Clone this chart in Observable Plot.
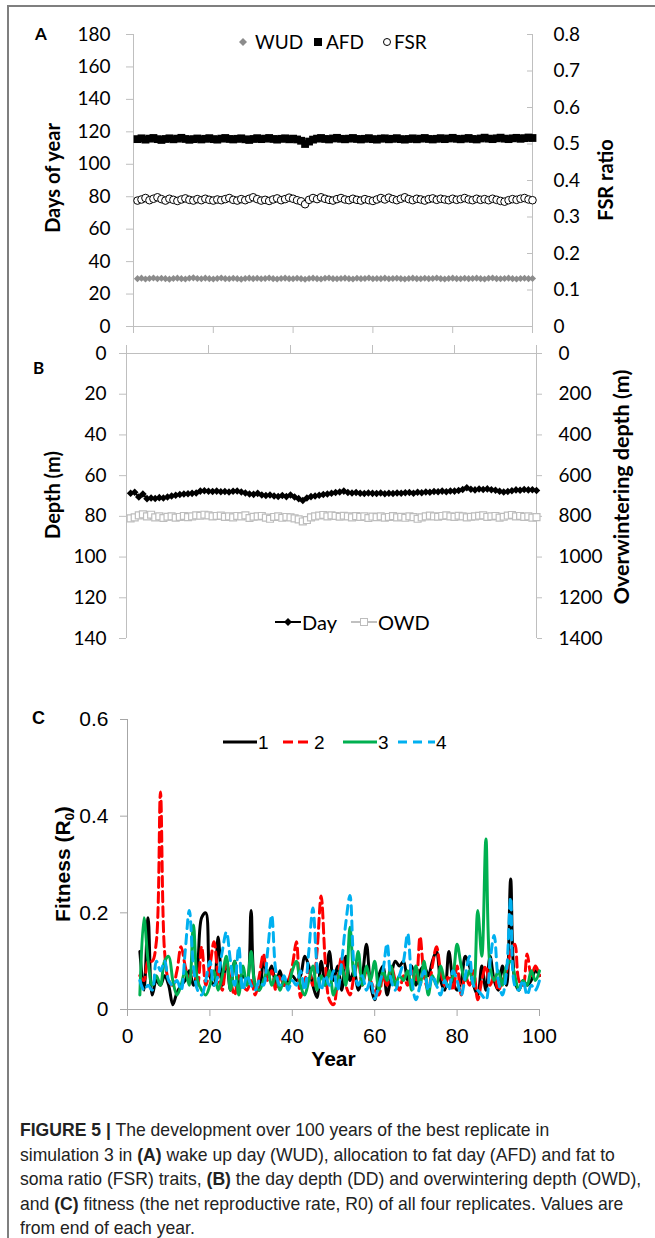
<!DOCTYPE html>
<html><head><meta charset="utf-8">
<script src="https://cdn.jsdelivr.net/npm/d3@7"></script>
<script src="https://cdn.jsdelivr.net/npm/@observablehq/plot@0.6"></script>
<style>
html,body{margin:0;padding:0;background:#fff;}
#fig{position:relative;width:655px;height:1238px;overflow:hidden;background:#fff;}
.frame{position:absolute;left:7px;top:5px;width:700px;height:1300px;border-top:2px solid #7f7f7f;border-left:2px solid #7f7f7f;}
.lab{position:absolute;white-space:nowrap;line-height:1;}
.panel{position:absolute;left:0;}
#caption{position:absolute;left:20px;top:1118px;font-family:"Liberation Sans",Arial,sans-serif;font-size:19px;line-height:24.5px;color:#222;white-space:nowrap;transform:scaleX(0.925);transform-origin:0 0;}
</style></head><body><div id="fig"><div class="frame"></div></div>
<script>
// ---------- DATA ----------
const yearsA = d3.range(1, 101);
const wud = [29.5,29.8,29.3,29.6,29.9,29.4,29.7,29.5,29.2,29.6,29.8,29.5,29.3,29.7,30.0,29.6,29.4,29.8,29.5,29.3,29.6,29.9,29.5,29.4,29.7,29.5,29.2,29.6,29.8,29.5,29.7,29.4,29.6,29.9,29.5,29.3,29.6,29.8,29.5,29.4,29.7,29.5,29.1,29.6,29.8,29.5,29.3,29.7,29.9,29.5,29.4,29.6,29.8,29.5,29.3,29.7,29.5,29.6,29.9,29.4,29.6,29.5,29.8,29.4,29.6,29.7,29.5,29.3,29.6,29.8,29.5,29.4,29.7,29.5,29.6,29.9,29.5,29.3,29.6,29.8,29.5,29.4,29.7,29.5,29.6,29.8,29.5,29.3,29.7,29.9,29.5,29.4,29.6,29.8,29.5,29.3,29.6,29.7,29.5,29.6];
const afd = [115.5,116.0,115.2,115.8,116.2,115.5,115.0,115.6,116.0,115.4,115.8,116.3,115.6,115.1,115.5,115.9,115.3,115.7,116.1,115.5,115.2,115.8,116.2,115.6,115.3,115.7,116.0,115.4,115.0,115.6,116.1,115.5,115.8,116.2,115.6,115.2,115.7,116.0,115.4,115.8,115.3,114.5,112.5,114.0,115.2,115.8,116.2,115.6,115.3,115.9,116.3,115.7,115.4,115.8,116.2,115.6,115.3,115.7,116.1,115.5,115.2,115.8,116.0,115.4,115.7,116.1,115.5,115.2,115.6,116.0,115.4,115.8,116.2,115.6,115.3,115.7,116.1,115.5,115.9,116.3,115.7,115.4,115.8,116.2,115.6,115.3,115.9,116.4,115.8,115.5,116.0,116.4,115.8,115.5,116.0,116.3,115.7,116.1,116.5,116.2];
const fsr = [0.345,0.348,0.352,0.346,0.350,0.354,0.349,0.345,0.350,0.347,0.344,0.348,0.351,0.347,0.345,0.349,0.346,0.350,0.347,0.345,0.348,0.346,0.349,0.352,0.347,0.345,0.349,0.346,0.350,0.354,0.349,0.345,0.347,0.344,0.348,0.351,0.346,0.349,0.353,0.350,0.346,0.343,0.335,0.347,0.352,0.349,0.354,0.350,0.347,0.345,0.349,0.352,0.348,0.346,0.350,0.347,0.345,0.349,0.346,0.344,0.348,0.352,0.348,0.353,0.349,0.346,0.350,0.354,0.349,0.346,0.350,0.348,0.345,0.349,0.351,0.347,0.350,0.348,0.346,0.350,0.347,0.349,0.352,0.348,0.346,0.350,0.347,0.349,0.346,0.350,0.347,0.344,0.342,0.346,0.349,0.347,0.350,0.352,0.348,0.346];
const dayDepth = [68.6,68.2,70.5,69.0,71.3,71.0,71.2,70.8,71.0,70.5,70.0,69.6,69.3,69.0,68.9,68.7,68.5,67.6,67.4,67.7,67.8,67.6,67.9,67.8,68.0,67.7,67.5,68.0,68.5,69.0,69.2,68.7,69.5,69.8,69.5,70.0,70.2,69.8,70.3,69.5,70.5,71.3,72.2,71.0,70.3,70.0,69.6,69.3,69.0,68.6,68.3,68.0,67.6,68.3,68.5,68.3,68.6,68.8,68.5,68.7,68.8,68.5,68.9,68.6,68.8,68.5,68.6,68.4,68.3,68.6,68.2,68.4,68.0,68.2,67.8,67.9,67.6,67.9,67.5,67.6,67.3,66.8,65.9,66.7,67.0,66.6,66.8,66.5,66.9,67.2,67.7,68.0,67.8,67.4,67.0,67.2,66.8,67.0,66.9,67.3];
const owd = [810,805,795,790,800,792,805,800,808,802,800,806,803,798,804,800,795,797,792,795,800,798,796,803,800,805,798,800,795,808,802,800,798,806,812,803,800,807,803,805,810,815,825,818,805,800,796,793,800,795,798,802,797,800,805,799,803,800,808,801,804,800,806,803,799,805,802,807,800,804,812,805,800,796,800,802,798,795,800,803,797,800,805,802,800,797,795,803,800,798,806,802,796,793,800,798,803,800,806,804];

const yearsC = d3.range(3, 101);
const rep1 = [0.12,0.04,0.19,0.03,0.06,0.05,0.07,0.05,0.01,0.035, 0.05,0.06,0.08,0.05,0.09,0.19,0.20,0.07,0.05,0.15, 0.05,0.10,0.04,0.10,0.05,0.07,0.06,0.205,0.05,0.04, 0.10,0.07,0.09,0.05,0.08,0.05,0.06,0.07,0.06,0.07, 0.11,0.09,0.05,0.025,0.10,0.05,0.12,0.06,0.09,0.04, 0.11,0.06,0.08,0.04,0.07,0.135,0.05,0.02,0.07,0.09, 0.03,0.07,0.10,0.09,0.10,0.06,0.09,0.05,0.08,0.09, 0.07,0.10,0.12,0.06,0.04,0.12,0.06,0.04,0.06,0.11, 0.09,0.05,0.03,0.09,0.04,0.11,0.06,0.04,0.09,0.05, 0.27,0.06,0.04,0.06,0.05,0.06,0.08,0.07];
const rep2 = [0.07,0.06,0.10,0.10,0.14,0.45,0.12,0.06,0.05,0.08, 0.13,0.09,0.06,0.08,0.05,0.13,0.05,0.09,0.14,0.07, 0.04,0.10,0.06,0.03,0.07,0.05,0.04,0.06,0.03,0.07, 0.115,0.06,0.08,0.04,0.07,0.05,0.06,0.09,0.14,0.025, 0.06,0.08,0.05,0.12,0.235,0.10,0.02,0.01,0.06,0.11, 0.05,0.03,0.07,0.10,0.05,0.08,0.06,0.04,0.03,0.07, 0.05,0.09,0.06,0.04,0.07,0.05,0.08,0.06,0.15,0.07, 0.04,0.09,0.13,0.08,0.05,0.07,0.04,0.09,0.03,0.07, 0.05,0.08,0.02,0.06,0.09,0.05,0.07,0.04,0.06,0.08, 0.12,0.135,0.06,0.05,0.115,0.07,0.09,0.07];
const rep3 = [0.03,0.19,0.10,0.05,0.07,0.05,0.10,0.11,0.06,0.03, 0.05,0.08,0.05,0.175,0.06,0.04,0.03,0.05,0.08,0.04, 0.07,0.11,0.04,0.10,0.03,0.09,0.05,0.12,0.05,0.04, 0.06,0.08,0.05,0.07,0.04,0.06,0.05,0.08,0.10,0.05, 0.03,0.06,0.09,0.04,0.07,0.05,0.08,0.03,0.06,0.09, 0.05,0.17,0.07,0.12,0.05,0.09,0.06,0.10,0.04,0.08, 0.06,0.09,0.05,0.07,0.06,0.08,0.04,0.09,0.05,0.10, 0.03,0.07,0.05,0.09,0.06,0.05,0.07,0.135,0.09,0.06, 0.08,0.05,0.205,0.11,0.353,0.09,0.06,0.08,0.05,0.09, 0.10,0.07,0.04,0.06,0.05,0.08,0.06,0.08];
const rep4 = [0.06,0.04,0.05,0.04,0.10,0.08,0.10,0.06,0.05,0.06, 0.04,0.12,0.205,0.09,0.04,0.03,0.06,0.10,0.05,0.07, 0.12,0.16,0.10,0.05,0.13,0.04,0.07,0.05,0.04,0.06, 0.05,0.12,0.195,0.08,0.05,0.07,0.04,0.06,0.05,0.08, 0.04,0.12,0.21,0.09,0.04,0.07,0.05,0.08,0.04,0.10, 0.18,0.236,0.09,0.05,0.07,0.04,0.06,0.022,0.05,0.08, 0.136,0.06,0.04,0.07,0.10,0.157,0.06,0.02,0.05,0.08, 0.04,0.07,0.05,0.03,0.06,0.04,0.08,0.06,0.03,0.07, 0.11,0.05,0.04,0.03,0.02,0.10,0.153,0.06,0.03,0.08, 0.232,0.05,0.04,0.06,0.03,0.05,0.04,0.06];

const xTicks = [0, 20, 40, 60, 80, 100];
const leftTicksA = [0, 20, 40, 60, 80, 100, 120, 140, 160, 180];
const rightTicksA = [0, 0.1, 0.2, 0.3, 0.4, 0.5, 0.6, 0.7, 0.8];
const rightLabelsA = ["0", "0.1", "0.2", "0.3", "0.4", "0.5", "0.6", "0.7", "0.8"];
const leftTicksB = [0, 20, 40, 60, 80, 100, 120, 140];
const rightTicksB = [0, 200, 400, 600, 800, 1000, 1200, 1400];
const ticksC = [0, 0.2, 0.4, 0.6];
const labelsC = ["0", "0.2", "0.4", "0.6"];
const seriesC = ["1", "2", "3", "4"];

// ---------- LAYOUT ----------
const fig = document.getElementById("fig");
const W = 655;
const axisGray = "#bfbfbf";
const FSR_SCALE = 180 / 0.8;
const OWD_SCALE = 140 / 1400;
const lato = "Lato, 'Open Sans', sans-serif";
const arial = "'Liberation Sans', Arial, sans-serif";

function place(el, top) { el.classList.add("panel"); el.style.top = top + "px"; fig.appendChild(el); }
function label(html, x, y, css) {
  const d = document.createElement("div");
  d.className = "lab"; d.innerHTML = html;
  d.style.left = x + "px"; d.style.top = y + "px";
  Object.assign(d.style, css || {});
  fig.appendChild(d); return d;
}
function rotLabel(html, cx, cy, css) {
  return label(html, cx, cy, Object.assign({transform: "translate(-50%,-50%) rotate(-90deg)"}, css));
}

// ---------- PANEL A ----------
const rowsA = yearsA.map((yr, i) => ({yr, wud: wud[i], afd: afd[i], fsr: fsr[i] * FSR_SCALE}));
const rA = rightTicksA.map(v => v * FSR_SCALE);
const A = Plot.plot({
  width: W, height: 345, marginLeft: 133, marginRight: 123, marginTop: 34, marginBottom: 19,
  x: {domain: [0, 100]}, y: {domain: [0, 180]},
  style: {fontFamily: lato, fontSize: "19px", background: "none", overflow: "visible", color: "#000"},
  marks: [
    Plot.ruleY([0], {stroke: axisGray}),
    Plot.ruleX([0], {stroke: axisGray}),
    Plot.ruleX([100], {stroke: axisGray}),
    Plot.axisX({ticks: xTicks, tickSize: 7, tickFormat: () => "", stroke: axisGray, label: null}),
    Plot.axisY({ticks: leftTicksA, tickSize: 7, tickPadding: 16, stroke: axisGray, fill: "#000", label: null}),
    Plot.axisY({anchor: "right", ticks: rA, tickSize: 0, tickPadding: 21, tickFormat: d => rightLabelsA[rA.indexOf(d)], fill: "#000", label: null}),
    Plot.tickY(rA, {y: d => d, stroke: axisGray, insetLeft: 399 - 5}),
    Plot.dot(rowsA, {x: "yr", y: "wud", symbol: "diamond2", fill: "#8c8c8c", stroke: "none", r: 3.2}),
    Plot.dot(rowsA, {x: "yr", y: "fsr", r: 3.8, fill: "white", stroke: "black", strokeWidth: 1}),
    Plot.dot(rowsA, {x: "yr", y: "afd", symbol: "square", fill: "black", stroke: "none", r: 4.4})
  ]
});
place(A, 0);

// ---------- PANEL B ----------
const rowsB = yearsA.map((yr, i) => ({yr, day: dayDepth[i], owd: owd[i] * OWD_SCALE}));
const rB = rightTicksB.map(v => v * OWD_SCALE);
const B = Plot.plot({
  width: W, height: 320, marginLeft: 126, marginRight: 119, marginTop: 13, marginBottom: 22,
  x: {domain: [0, 100]}, y: {domain: [0, 140], reverse: true},
  style: {fontFamily: lato, fontSize: "19px", background: "none", overflow: "visible", color: "#000"},
  marks: [
    Plot.ruleY([0], {stroke: axisGray}),
    Plot.ruleX([0], {stroke: axisGray}),
    Plot.ruleX([100], {stroke: axisGray}),
    Plot.axisX({anchor: "top", ticks: xTicks, tickSize: 9, tickFormat: () => "", stroke: axisGray, label: null}),
    Plot.axisY({ticks: leftTicksB, tickSize: 7, tickPadding: 13, stroke: axisGray, fill: "#000", label: null}),
    Plot.axisY({anchor: "right", ticks: rB, tickSize: 5, tickPadding: 17, tickFormat: d => String(rightTicksB[rB.indexOf(d)]), stroke: axisGray, fill: "#000", label: null}),
    Plot.line(rowsB, {x: "yr", y: "owd", stroke: "#c8c8c8", strokeWidth: 2}),
    Plot.dot(rowsB, {x: "yr", y: "owd", symbol: "square", r: 3.9, fill: "white", stroke: "#bdbdbd", strokeWidth: 1.2}),
    Plot.line(rowsB, {x: "yr", y: "day", stroke: "black", strokeWidth: 2}),
    Plot.dot(rowsB, {x: "yr", y: "day", symbol: "diamond2", r: 3.4, fill: "black", stroke: "none"})
  ]
});
place(B, 340);

// ---------- PANEL C ----------
const repsC = [rep1, rep2, rep3, rep4];
const rowsC = repsC.flatMap((vals, s) => yearsC.map((yr, i) => ({yr, v: vals[i], s: seriesC[s]})));
const styleC = {
  "1": {stroke: "black"},
  "2": {stroke: "#ff0000", strokeDasharray: "10,5"},
  "3": {stroke: "#00b050"},
  "4": {stroke: "#00b0f0", strokeDasharray: "9,6"}
};
const C = Plot.plot({
  width: W, height: 420, marginLeft: 127, marginRight: 116, marginTop: 59, marginBottom: 71,
  x: {domain: [0, 100]}, y: {domain: [0, 0.6]},
  style: {fontFamily: arial, fontSize: "21px", background: "none", overflow: "visible", color: "#000"},
  marks: [
    Plot.ruleY([0], {stroke: "#a6a6a6"}),
    Plot.ruleX([0], {stroke: "#a6a6a6"}),
    Plot.axisY({ticks: ticksC, tickSize: 7, tickPadding: 12, tickFormat: d => labelsC[ticksC.indexOf(d)], stroke: "#a6a6a6", fill: "#000", label: null}),
    Plot.axisX({ticks: xTicks, tickSize: 7, tickPadding: 12, stroke: "#a6a6a6", fill: "#000", label: null}),
    ...seriesC.map(s => Plot.line(rowsC.filter(d => d.s === s), {x: "yr", y: "v", strokeWidth: 3, curve: "catmull-rom", ...styleC[s]})),
    Plot.text(["Year"], {frameAnchor: "bottom", dy: 56, fontWeight: "bold", fontSize: 21})
  ]
});
place(C, 660);

// ---------- TEXT: panel letters, axis titles, legends ----------
label("A", 35, 25, {fontFamily: lato, fontWeight: "bold", fontSize: "17px"});
label("B", 33, 359, {fontFamily: lato, fontWeight: "bold", fontSize: "17px"});
label("C", 32, 709, {fontFamily: arial, fontWeight: "bold", fontSize: "18px"});

const titleCss = {fontFamily: lato, fontWeight: "bold", fontSize: "20px"};
rotLabel("Days of year", 52, 178, titleCss);
rotLabel("FSR ratio", 605, 180, titleCss);
rotLabel("Depth (m)", 52, 495, titleCss);
rotLabel("Overwintering depth (m)", 622, 487, Object.assign({}, titleCss, {fontSize: "21.5px"}));
rotLabel("Fitness (R<sub style='font-size:13px;vertical-align:-4px;line-height:0'>0</sub>)", 62, 864,
  {fontFamily: arial, fontWeight: "bold", fontSize: "21px"});

// legend A
function svgIcon(w, h, inner) { return `<svg width="${w}" height="${h}" style="display:block">${inner}</svg>`; }
label(svgIcon(10, 10, '<path d="M5,1 L9,5 L5,9 L1,5Z" fill="#8c8c8c"/>'), 238, 37);
label("WUD", 255, 32, {fontFamily: lato, fontSize: "19px"});
label(svgIcon(10, 10, '<rect x="1" y="1" width="8" height="8" fill="#000"/>'), 313, 37);
label("AFD", 326, 32, {fontFamily: lato, fontSize: "19px"});
label(svgIcon(10, 10, '<circle cx="5" cy="5" r="3.5" fill="#fff" stroke="#000"/>'), 382, 37);
label("FSR", 394, 32, {fontFamily: lato, fontSize: "19px"});

// legend B
label(svgIcon(28, 12, '<line x1="1" y1="6" x2="27" y2="6" stroke="#000" stroke-width="2"/><path d="M14,2 L18,6 L14,10 L10,6Z" fill="#000"/>'), 274, 616);
label("Day", 302, 612, {fontFamily: lato, fontSize: "20px"});
label(svgIcon(28, 12, '<line x1="1" y1="6" x2="27" y2="6" stroke="#c0c0c0" stroke-width="2"/><rect x="10.5" y="2.5" width="7" height="7" fill="#fff" stroke="#bdbdbd"/>'), 350, 616);
label("OWD", 378, 612, {fontFamily: lato, fontSize: "20px"});

// legend C
const legC = [
  {x: 223, w: 34, color: "#000", dash: ""},
  {x: 283, w: 30, color: "#ff0000", dash: "10,5"},
  {x: 343, w: 34, color: "#00b050", dash: ""},
  {x: 398, w: 37, color: "#00b0f0", dash: "9,6"}
];
legC.forEach((l, i) => {
  label(svgIcon(l.w, 8, `<line x1="0" y1="4" x2="${l.w}" y2="4" stroke="${l.color}" stroke-width="3" ${l.dash ? `stroke-dasharray="${l.dash}"` : ""}/>`), l.x, 738);
  label(seriesC[i], l.x + l.w + 1, 733, {fontFamily: arial, fontSize: "19px"});
});

// caption
const cap = document.createElement("div");
cap.id = "caption";
cap.innerHTML = "<b>FIGURE 5 |</b> The development over 100 years of the best replicate in<br>" +
  "simulation 3 in <b>(A)</b> wake up day (WUD), allocation to fat day (AFD) and fat to<br>" +
  "soma ratio (FSR) traits, <b>(B)</b> the day depth (DD) and overwintering depth (OWD),<br>" +
  "and <b>(C)</b> fitness (the net reproductive rate, R0) of all four replicates. Values are<br>" +
  "from end of each year.";
fig.appendChild(cap);
</script></body></html>
